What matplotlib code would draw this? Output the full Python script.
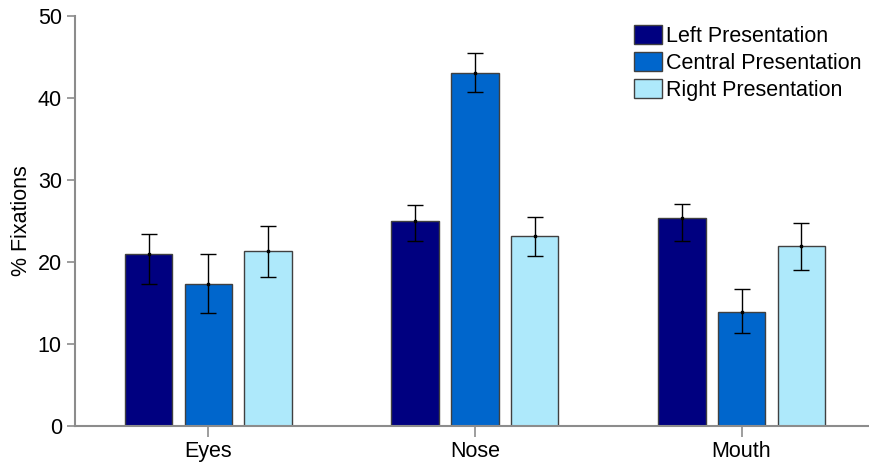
import matplotlib
matplotlib.use("Agg")
import matplotlib.pyplot as plt
import numpy as np

plt.rcParams['font.family'] = ['Liberation Sans', 'DejaVu Sans']

regions = ["Eyes", "Nose", "Mouth"]
series = ["Left Presentation", "Central Presentation", "Right Presentation"]
colors = ["#000080", "#0066CC", "#AEE9FB"]

# mean % fixations and error bar ends
means = [
    [20.9, 24.95, 25.4],
    [17.35, 43.1, 13.9],
    [21.3, 23.1, 21.9],
]
err_hi = [
    [23.4, 26.9, 27.0],
    [21.0, 45.5, 16.65],
    [24.35, 25.45, 24.7],
]
err_lo = [
    [17.25, 22.6, 22.6],
    [13.7, 40.7, 11.3],
    [18.15, 20.7, 18.95],
]

fig = plt.figure(figsize=(8.69, 4.63), dpi=100)
ax = fig.add_axes([0.0863, 0.0806, 0.9137, 0.8848])

x = np.arange(len(regions))
width = 0.178
step = 0.224
for i, name in enumerate(series):
    pos = x + (i - 1) * step
    m = np.array(means[i])
    yerr = [m - np.array(err_lo[i]), np.array(err_hi[i]) - m]
    ax.bar(pos, m, width, color=colors[i], edgecolor="#404040", linewidth=1.0,
           label=name, zorder=2)
    ax.errorbar(pos, m, yerr=yerr, fmt="s", markersize=2, color="black",
                ecolor="black", elinewidth=1.0, capsize=5.5, capthick=1.0, zorder=3)

ax.set_xlim(-0.5, 2.478)
ax.set_ylim(0, 50)
ax.set_yticks([0, 10, 20, 30, 40, 50])
ax.set_xticks(x)
ax.set_xticklabels(regions)
ax.set_ylabel("% Fixations", fontsize=15.5, labelpad=4)

for s in ["top", "right"]:
    ax.spines[s].set_visible(False)
for s in ["left", "bottom"]:
    ax.spines[s].set_color("#8c8c8c")
    ax.spines[s].set_linewidth(1.5)
ax.tick_params(axis="both", colors="#8c8c8c", labelcolor="black", labelsize=15.5,
               width=1.2, length=6, direction="out")
ax.tick_params(axis="x", length=8, pad=3)

ax.legend(loc="upper right", bbox_to_anchor=(1.015, 1.025), frameon=False, fontsize=15.5,
          handlelength=1.3, handleheight=0.95, handletextpad=0.2, labelspacing=0.25)

fig.savefig("out.png", dpi=100)
